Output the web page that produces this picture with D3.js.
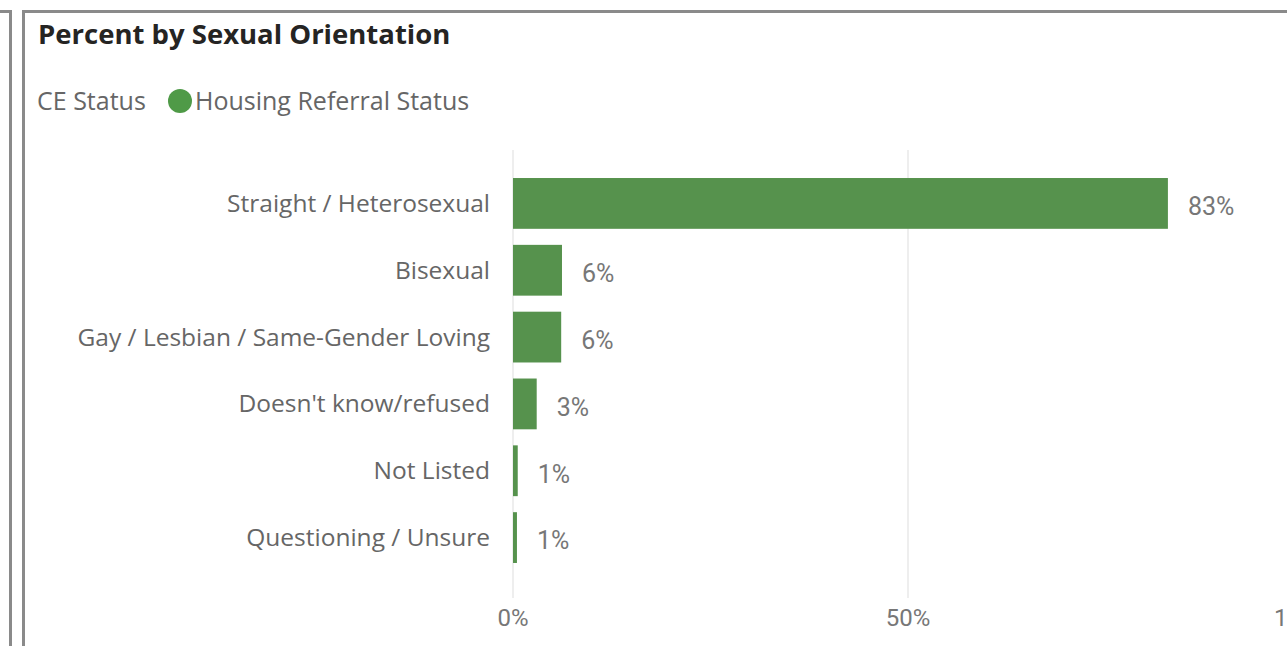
<!DOCTYPE html>
<html>
<head>
	<meta charset="utf-8">
	<title>Percent by Sexual Orientation</title>
	<style>
		body { margin: 0; background: #fff; }
		svg { display: block; }
	</style>
</head>
<body>
	<svg width="1287" height="646"></svg>
	<script src="https://d3js.org/d3.v7.min.js"></script>
	<script>
		// data
		var categories = ["Straight / Heterosexual", "Bisexual", "Gay / Lesbian / Same-Gender Loving",
			"Doesn't know/refused", "Not Listed", "Questioning / Unsure"];
		var values = [82.9, 6.2, 6.1, 3.0, 0.6, 0.5];
		var valueLabels = ["83%", "6%", "6%", "3%", "1%", "1%"];
		var xTicks = [0, 50, 100];

		var svg = d3.select("svg");
		var green = "#56924d";
		var font = "'Open Sans', sans-serif";
		var numFont = "Roboto, sans-serif";

		// panel borders
		svg.append("path")
			.attr("d", "M0,11.5 H10.5 V646")
			.attr("fill", "none").attr("stroke", "#8a8a8a").attr("stroke-width", 3);
		svg.append("path")
			.attr("d", "M23.5,646 V11.5 H1287")
			.attr("fill", "none").attr("stroke", "#8a8a8a").attr("stroke-width", 3);

		// title
		svg.append("text")
			.attr("x", 38).attr("y", 44)
			.attr("font-family", font).attr("font-weight", "bold")
			.attr("font-size", 27.5).attr("fill", "#252423")
			.text("Percent by Sexual Orientation");

		// legend
		var legend = svg.append("g").attr("font-family", font).attr("font-size", 25).attr("fill", "#666");
		legend.append("text").attr("x", 37).attr("y", 110).text("CE Status");
		legend.append("circle").attr("cx", 180).attr("cy", 101).attr("r", 12).attr("fill", "#4f9a47");
		legend.append("text").attr("x", 195).attr("y", 110).text("Housing Referral Status");

		var x = d3.scaleLinear().domain([0, 100]).range([513, 1303]);
		var y = d3.scaleBand().domain(categories).range([170, 571])
			.paddingInner(0.24).paddingOuter(0.12);

		// gridlines
		svg.append("g").selectAll("line")
			.data(xTicks).enter().append("line")
			.attr("x1", function(d) { return x(d); })
			.attr("x2", function(d) { return x(d); })
			.attr("y1", 150).attr("y2", 598)
			.attr("stroke", "#e9e9e9").attr("stroke-width", 1.5);

		// x axis labels
		svg.append("g").selectAll("text")
			.data(xTicks).enter().append("text")
			.attr("x", function(d) { return x(d); })
			.attr("y", 626)
			.attr("text-anchor", "middle")
			.attr("font-family", numFont).attr("font-size", 24).attr("fill", "#777")
			.text(function(d) { return d + "%"; });

		// category labels
		svg.append("g").selectAll("text")
			.data(categories).enter().append("text")
			.attr("x", 490)
			.attr("y", function(d) { return y(d) + y.bandwidth() / 2; })
			.attr("dy", "0.35em")
			.attr("text-anchor", "end")
			.attr("font-family", font).attr("font-size", 24.5).attr("fill", "#666")
			.text(function(d) { return d; });

		// bars
		svg.append("g").selectAll("rect")
			.data(values).enter().append("rect")
			.attr("x", x(0))
			.attr("y", function(d, i) { return y(categories[i]); })
			.attr("width", function(d) { return x(d) - x(0); })
			.attr("height", y.bandwidth())
			.attr("fill", green);

		// value labels
		svg.append("g").selectAll("text")
			.data(values).enter().append("text")
			.attr("x", function(d) { return x(d) + 20; })
			.attr("y", function(d, i) { return y(categories[i]) + y.bandwidth() / 2 + 3; })
			.attr("dy", "0.35em")
			.attr("font-family", numFont).attr("font-size", 25).attr("fill", "#777")
			.text(function(d, i) { return valueLabels[i]; });
	</script>
</body>
</html>
